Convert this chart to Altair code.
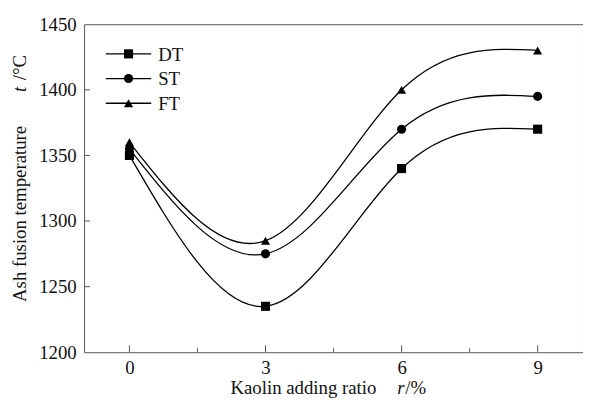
import altair as alt
import pandas as pd

# ---- data ----
kaolin_ratio = [0, 3, 6, 9]
series_names = ["DT", "ST", "FT"]
dt_values = [1350, 1235, 1340, 1370]
st_values = [1355, 1275, 1370, 1395]
ft_values = [1360, 1285, 1400, 1430]
x_tick_values = [0, 3, 6, 9]
x_minor_ticks = [1.5, 4.5, 7.5]
y_tick_values = [1200, 1250, 1300, 1350, 1400, 1450]
shapes = ["square", "circle", "triangle-up"]

rows = []
for name, vals in zip(series_names, [dt_values, st_values, ft_values]):
    for x, y in zip(kaolin_ratio, vals):
        rows.append({"r": x, "t": y, "series": name})
df = pd.DataFrame(rows)

FONT = "Liberation Serif"
W, H = 505, 332
XDOM = [-1, 10]
YDOM = [1200, 1450]

xs = alt.Scale(domain=XDOM, nice=False, zero=False)
ys = alt.Scale(domain=YDOM, nice=False, zero=False)

xaxis = alt.Axis(values=x_tick_values, title=None, domain=False, ticks=False, grid=False, format="d",
                 labelFont=FONT, labelFontSize=19, labelColor="#111", labelPadding=7)
yaxis = alt.Axis(values=y_tick_values, title=None, domain=False, ticks=False, grid=False, format="d",
                 labelFont=FONT, labelFontSize=19, labelColor="#111", labelPadding=8)

base = alt.Chart(df)

lines = base.mark_line(interpolate="natural", color="black", strokeWidth=1.3).encode(
    x=alt.X("r:Q", scale=xs, axis=xaxis),
    y=alt.Y("t:Q", scale=ys, axis=yaxis),
    detail="series:N",
)

points = base.mark_point(filled=True, color="black", opacity=1, size=85).encode(
    x=alt.X("r:Q", scale=xs),
    y=alt.Y("t:Q", scale=ys),
    shape=alt.Shape("series:N", scale=alt.Scale(domain=series_names, range=shapes), legend=None),
)

# inward ticks
xt_major = alt.Chart(pd.DataFrame({"r": x_tick_values})).mark_rule(color="#555", strokeWidth=1).encode(
    x=alt.X("r:Q", scale=xs), y=alt.value(H), y2=alt.value(H - 7))
xt_minor = alt.Chart(pd.DataFrame({"r": x_minor_ticks})).mark_rule(color="#555", strokeWidth=1).encode(
    x=alt.X("r:Q", scale=xs), y=alt.value(H), y2=alt.value(H - 4))
yt = alt.Chart(pd.DataFrame({"t": y_tick_values[1:-1]})).mark_rule(color="#555", strokeWidth=1).encode(
    y=alt.Y("t:Q", scale=ys), x=alt.value(0), x2=alt.value(6))

layers = [lines, points, xt_major, xt_minor, yt]

# manual legend
for i, (name, shp) in enumerate(zip(series_names, shapes)):
    one = alt.Chart(pd.DataFrame({"series": [name]}))
    yy = 30 + 25 * i
    layers.append(one.mark_rule(color="black", strokeWidth=1.3).encode(
        x=alt.value(22), x2=alt.value(68), y=alt.value(yy)))
    layers.append(one.mark_point(shape=shp, filled=True, color="black", opacity=1, size=85).encode(
        x=alt.value(45), y=alt.value(yy)))
    layers.append(one.mark_text(font=FONT, fontSize=19, align="left", baseline="middle", color="#111").encode(
        x=alt.value(75), y=alt.value(yy + 1), text="series:N"))


def label(txt, x, y, italic=False, angle=0, align="center"):
    kw = dict(font=FONT, fontSize=19, align=align, baseline="middle", color="#111")
    if italic:
        kw["fontStyle"] = "italic"
    if angle:
        kw["angle"] = angle
    return alt.Chart(pd.DataFrame({"s": [txt]})).mark_text(**kw).encode(
        x=alt.value(x), y=alt.value(y), text="s:N")


# axis titles as text (for italic symbols)
layers += [
    label("Kaolin adding ratio", 222, 368),
    label("r", 317, 368, italic=True, align="left"),
    label("/%", 325, 368, align="left"),
    label("Ash fusion temperature", -65, 192, angle=270),
    label("t", -65, 66, italic=True, angle=270),
    label("/°C", -65, 44, angle=270),
]

chart = alt.layer(*layers).properties(
    width=W, height=H,
    autosize=alt.AutoSizeParams(type="none"),
    padding={"left": 77, "top": 14, "right": 0, "bottom": 52},
    background="white",
).configure_view(stroke="#555", strokeWidth=1)

chart.save("out.html", embed_options={"renderer": "svg", "actions": False})
